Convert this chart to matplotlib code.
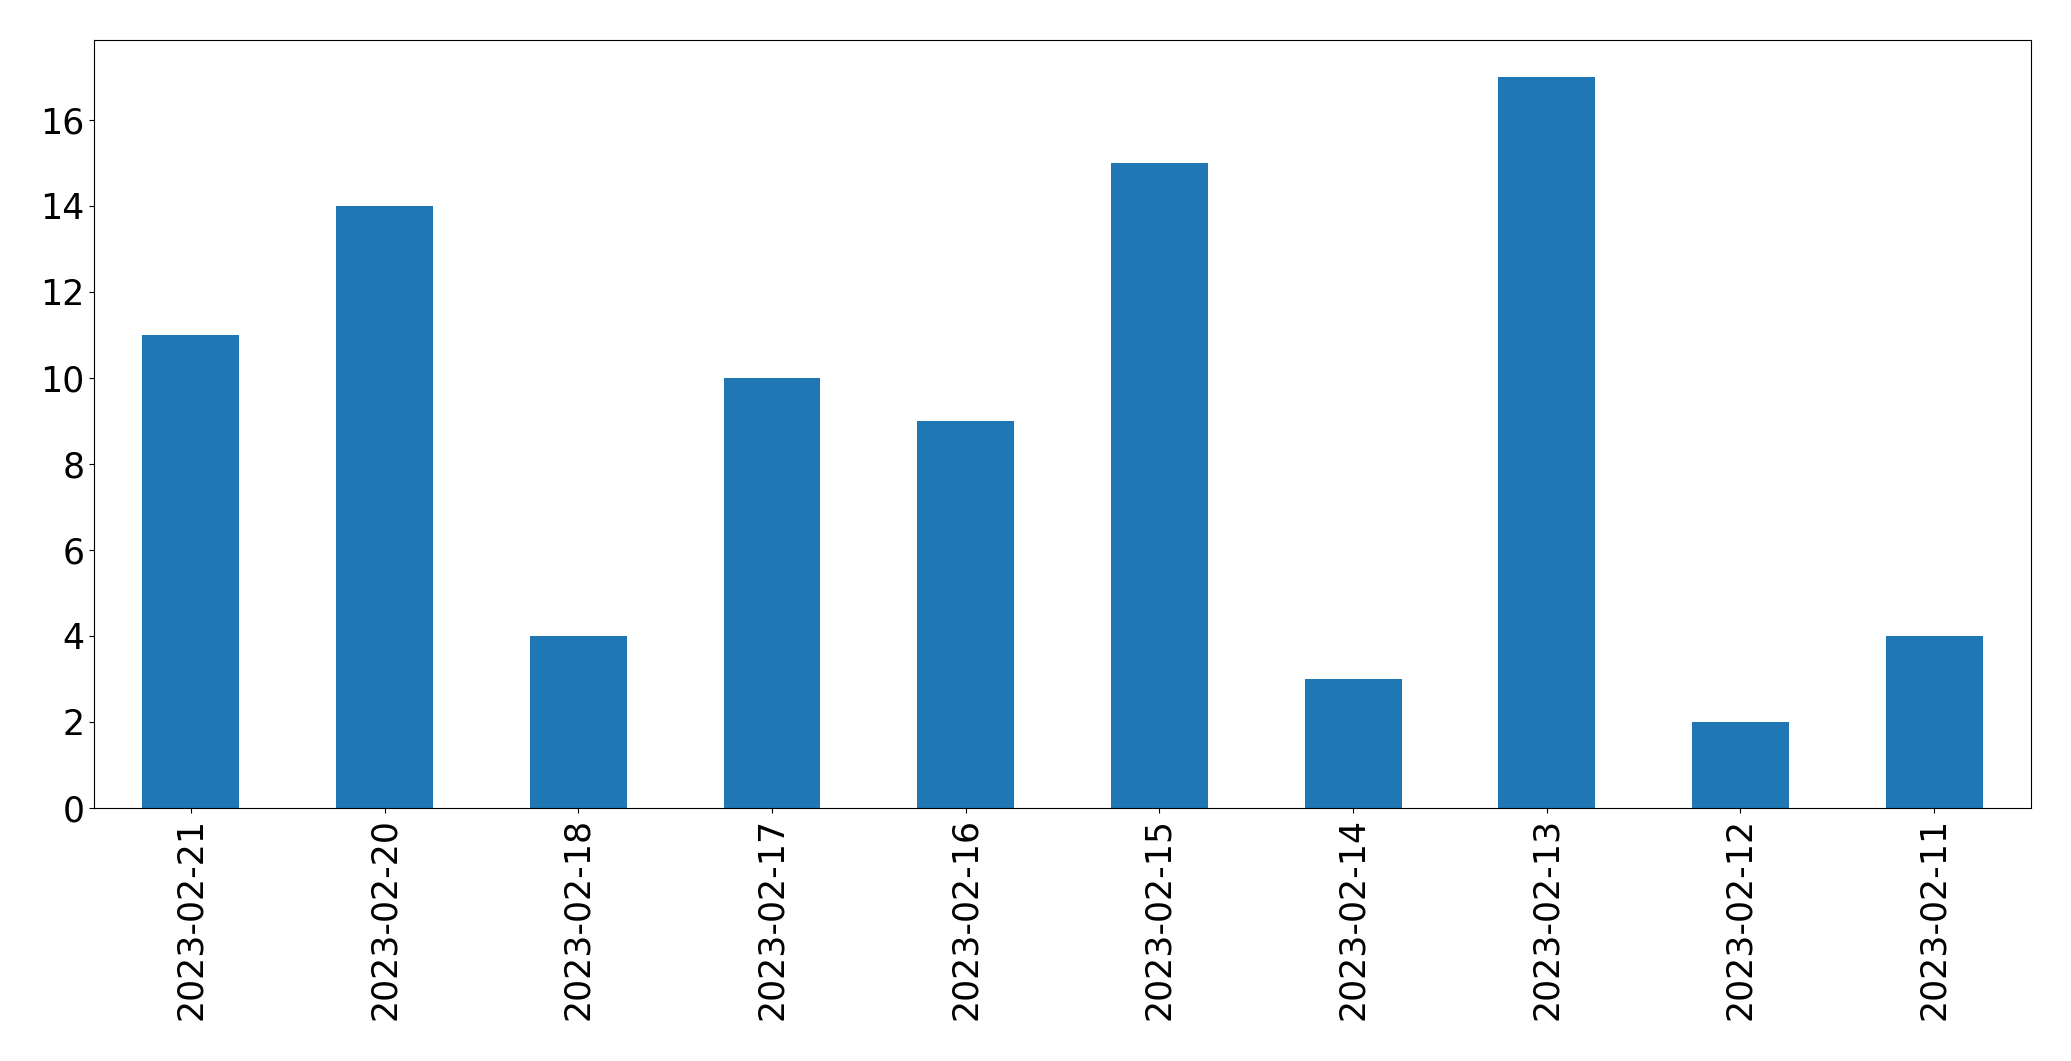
import matplotlib
matplotlib.use("Agg")
import matplotlib.pyplot as plt
import pandas as pd

dates = ["2023-02-21", "2023-02-20", "2023-02-18", "2023-02-17", "2023-02-16",
         "2023-02-15", "2023-02-14", "2023-02-13", "2023-02-12", "2023-02-11"]
counts = [11, 14, 4, 10, 9, 15, 3, 17, 2, 4]

s = pd.Series(counts, index=dates)

fig, ax = plt.subplots(figsize=(20.71, 10.61), dpi=100)
s.plot(kind="bar", ax=ax, color="#1f77b4")
ax.tick_params(axis="both", labelsize=25)
fig.subplots_adjust(left=0.0454, right=0.9807, top=0.9623, bottom=0.2385)
fig.savefig("out.png")
